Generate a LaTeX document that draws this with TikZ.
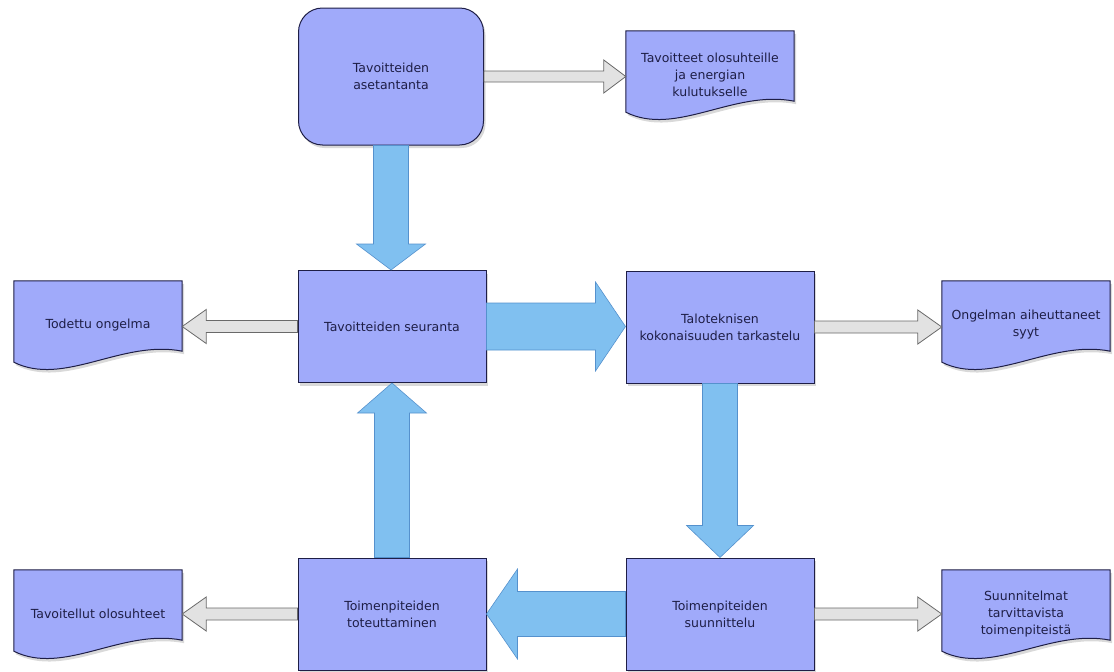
\documentclass[tikz,border=0pt]{standalone}
\usepackage{fontspec}
\setmainfont{DejaVu Sans}
\usepackage{tikz}
\usetikzlibrary{calc, shadows, positioning}
\definecolor{boxblue}{RGB}{160,170,250}
\definecolor{arrowblue}{RGB}{128,192,240}
\definecolor{arrowedge}{RGB}{85,145,205}
\definecolor{arrowgray}{RGB}{226,226,226}
\definecolor{grayedge}{RGB}{105,105,105}
\definecolor{textnavy}{RGB}{30,30,70}
\pgfdeclarelayer{background}
\pgfsetlayers{background,main}

% fat arrow: #1 style, #2 from, #3 to, #4 half shaft, #5 half head, #6 head length
\newcommand\fatarrow[6]{%
  \coordinate (hb) at ($(#3)!#6!(#2)$);
  \path[#1] ($(#2)!#4!90:(#3)$) -- ($(hb)!#4!-90:(#2)$) -- ($(hb)!#5!-90:(#2)$) -- (#3)
    -- ($(hb)!#5!90:(#2)$) -- ($(hb)!#4!90:(#2)$) -- ($(#2)!#4!-90:(#3)$) -- cycle;}

% wavy document outline round a node
\newcommand\docoutline[1]{%
  \path[docshape] (#1.north west) -- (#1.north east) -- ([yshift=18pt]#1.south east)
    .. controls ([xshift=-60pt,yshift=30pt]#1.south east) and ([xshift=50pt,yshift=-18pt]#1.south west)
    .. ([yshift=7pt]#1.south west) -- cycle;}

\begin{document}
\begin{tikzpicture}[x=1pt, y=1pt,
    font=\fontsize{12.5pt}{17pt}\selectfont, text=textnavy,
    procbox/.style={rectangle, draw=textnavy, line width=1pt, fill=boxblue, minimum width=188pt, minimum height=112pt, align=center, drop shadow={opacity=0.3, shadow xshift=2pt, shadow yshift=-3pt}},
    startbox/.style={procbox, rounded corners=24pt, minimum width=185pt, minimum height=137pt},
    docbox/.style={rectangle, minimum width=168pt, minimum height=88pt, inner sep=0pt, align=center},
    docshape/.style={draw=textnavy, line width=1pt, fill=boxblue, drop shadow={opacity=0.3, shadow xshift=2pt, shadow yshift=-3pt}},
    bluearrow/.style={fill=arrowblue, draw=arrowedge, line width=0.6pt},
    grayarrow/.style={fill=arrowgray, draw=grayedge, line width=0.8pt}]
    \useasboundingbox (0,0) rectangle (1114,-672);

    % Process boxes
    \node[startbox] (asetus) at (391,-76.5) {Tavoitteiden\\asetantanta};
    \node[procbox] (seuranta) at (392,-326.5) {Tavoitteiden seuranta};
    \node[procbox] (talo) at (720,-327) {Taloteknisen\\kokonaisuuden tarkastelu};
    \node[procbox] (suunn) at (720,-614) {Toimenpiteiden\\suunnittelu};
    \node[procbox] (toteut) at (392,-614) {Toimenpiteiden\\toteuttaminen};

    % Documents
    \node[docbox] (tavdoc) at (710,-75) {Tavoitteet olosuhteille\\ja energian\\kulutukselle};
    \node[docbox] (todettu) at (98,-325) {Todettu ongelma};
    \node[docbox] (syyt) at (1026,-325) {Ongelman aiheuttaneet\\syyt};
    \node[docbox] (tavoitellut) at (98,-614) {Tavoitellut olosuhteet};
    \node[docbox] (suunnitelmat) at (1026,-614) {Suunnitelmat\\tarvittavista\\toimenpiteistä};
    \begin{pgfonlayer}{background}
        \docoutline{tavdoc}
        \docoutline{todettu}
        \docoutline{syyt}
        \docoutline{tavoitellut}
        \docoutline{suunnitelmat}
    \end{pgfonlayer}

    % Main cycle
    \fatarrow{bluearrow}{asetus.south}{asetus.south |- seuranta.north}{17.5pt}{34.5pt}{26pt}
    \fatarrow{bluearrow}{seuranta.east}{seuranta.east -| talo.west}{23.5pt}{44.5pt}{30pt}
    \fatarrow{bluearrow}{talo.south}{talo.south |- suunn.north}{17.5pt}{33.5pt}{32pt}
    \fatarrow{bluearrow}{suunn.west}{suunn.west -| toteut.east}{22.5pt}{45pt}{31pt}
    \fatarrow{bluearrow}{toteut.north}{toteut.north |- seuranta.south}{17.5pt}{34.5pt}{30pt}

    % Outputs
    \fatarrow{grayarrow}{asetus.east}{asetus.east -| tavdoc.west}{5.5pt}{16.5pt}{22pt}
    \fatarrow{grayarrow}{seuranta.west}{seuranta.west -| todettu.east}{6pt}{17pt}{24pt}
    \fatarrow{grayarrow}{talo.east}{talo.east -| syyt.west}{6pt}{17pt}{24pt}
    \fatarrow{grayarrow}{toteut.west}{toteut.west -| tavoitellut.east}{6pt}{17pt}{24pt}
    \fatarrow{grayarrow}{suunn.east}{suunn.east -| suunnitelmat.west}{6pt}{17pt}{24pt}
\end{tikzpicture}
\end{document}
